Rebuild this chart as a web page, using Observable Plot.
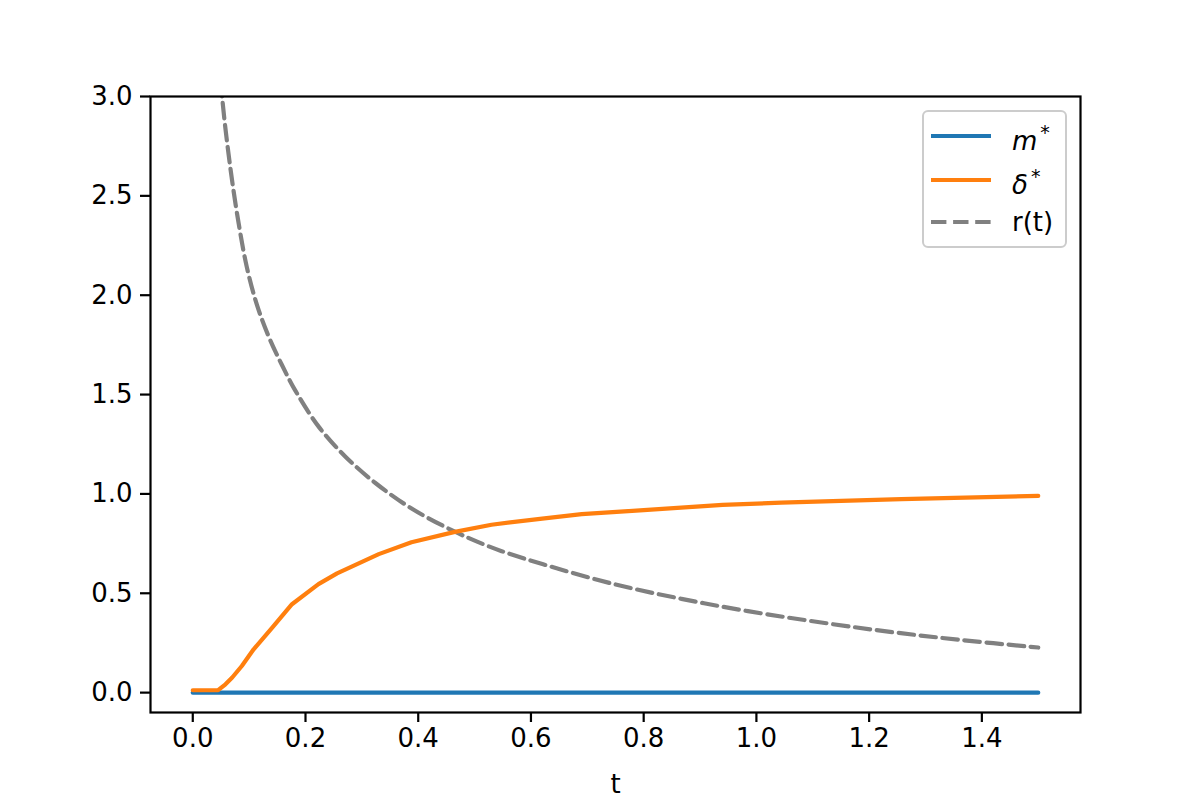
<!DOCTYPE html>
<html>
<head>
<meta charset="utf-8">
<script src="https://cdn.jsdelivr.net/npm/d3@7"></script>
<script src="https://cdn.jsdelivr.net/npm/@observablehq/plot@0.6"></script>
<style>
  html, body { margin: 0; padding: 0; background: #fff; }
  #wrap { position: relative; width: 1200px; height: 800px; font-family: "DejaVu Sans", sans-serif; }
  #legend {
    position: absolute; left: 922px; top: 110px; width: 141px; height: 134px;
    border: 2.5px solid #cccccc; border-radius: 6px; background: rgba(255,255,255,0.8);
    font-family: "DejaVu Sans", sans-serif; font-size: 26px; color: #000;
  }
  .row { position: absolute; left: 0; height: 30px; display: flex; align-items: center; }
  .row svg { position: absolute; left: 7px; }
  .row span { position: absolute; left: 88px; white-space: nowrap; line-height: 30px; }
  sup { font-size: 19px; vertical-align: 11px; margin-left: 3px; }
</style>
</head>
<body>
<div id="wrap"></div>
<script>
// m* series
const mT = [0, 1.5];
const mV = [0, 0];

// delta* series
const deltaT = [0, 0.045, 0.058, 0.070, 0.087, 0.108, 0.141, 0.176, 0.223, 0.256, 0.330, 0.388, 0.465, 0.530, 0.620, 0.690, 0.800, 0.940, 1.044, 1.257, 1.500];
const deltaV = [0.012, 0.012, 0.042, 0.076, 0.134, 0.218, 0.327, 0.445, 0.546, 0.600, 0.697, 0.757, 0.809, 0.845, 0.876, 0.898, 0.918, 0.945, 0.956, 0.974, 0.990];

// r(t) series
const rT = [0.045, 0.052, 0.0667, 0.0815, 0.096, 0.114, 0.135, 0.158, 0.182, 0.223, 0.270, 0.324, 0.389, 0.465, 0.513, 0.548, 0.631, 0.749, 0.867, 0.985, 1.127, 1.245, 1.363, 1.500];
const rV = [3.30, 3.00, 2.64, 2.36, 2.14, 1.95, 1.79, 1.65, 1.52, 1.34, 1.19, 1.055, 0.925, 0.810, 0.750, 0.712, 0.638, 0.545, 0.472, 0.410, 0.348, 0.303, 0.265, 0.227];

const xTicks = [0, 0.2, 0.4, 0.6, 0.8, 1.0, 1.2, 1.4];
const yTicks = [0, 0.5, 1.0, 1.5, 2.0, 2.5, 3.0];

const seriesNames = ["m*", "δ*", "r(t)"];
const seriesColors = ["#1f77b4", "#ff7f0e", "#808080"];

const mData = mT.map((t, i) => ({t, v: mV[i]}));
const dData = deltaT.map((t, i) => ({t, v: deltaV[i]}));
const rData = rT.map((t, i) => ({t, v: rV[i]}));

const fmt = d3.format(".1f");

const chart = Plot.plot({
  width: 1200,
  height: 800,
  marginLeft: 150,
  marginRight: 120,
  marginTop: 96,
  marginBottom: 88,
  style: { fontFamily: "DejaVu Sans, sans-serif", fontSize: "26px", background: "white", color: "black" },
  x: { domain: [-0.075, 1.575] },
  y: { domain: [-0.1, 3.0] },
  marks: [
    Plot.line(rData, { x: "t", y: "v", stroke: seriesColors[2], strokeWidth: 4.2, strokeDasharray: "15.4,6.7", curve: "catmull-rom", clip: true }),
    Plot.line(mData, { x: "t", y: "v", stroke: seriesColors[0], strokeWidth: 4.2, clip: true }),
    Plot.line(dData, { x: "t", y: "v", stroke: seriesColors[1], strokeWidth: 4.2, clip: true }),
    Plot.frame({ stroke: "black", strokeWidth: 2.2 }),
    Plot.axisX({ ticks: xTicks, tickFormat: fmt, tickSize: 10, tickPadding: 6, strokeWidth: 2.2, label: "t", labelAnchor: "center", labelArrow: "none", labelOffset: 80 }),
    Plot.axisY({ ticks: yTicks, tickFormat: fmt, tickSize: 10, tickPadding: 8, strokeWidth: 2.2, label: null })
  ]
});

const wrap = document.getElementById("wrap");
wrap.appendChild(chart);

// legend overlay
const legend = document.createElement("div");
legend.id = "legend";
const labelsHtml = ["<i>m</i><sup>*</sup>", "<i>δ</i><sup>*</sup>", "r(t)"];
const rowTops = [9, 53, 95];
seriesNames.forEach((name, i) => {
  const row = document.createElement("div");
  row.className = "row";
  row.style.top = rowTops[i] + "px";
  const dash = i === 2 ? 'stroke-dasharray="15.4,6.7"' : '';
  row.innerHTML = `<svg width="64" height="30"><line x1="0" x2="60" y1="15" y2="15" stroke="${seriesColors[i]}" stroke-width="4.2" ${dash}/></svg><span>${labelsHtml[i]}</span>`;
  legend.appendChild(row);
});
wrap.appendChild(legend);
</script>
</body>
</html>
